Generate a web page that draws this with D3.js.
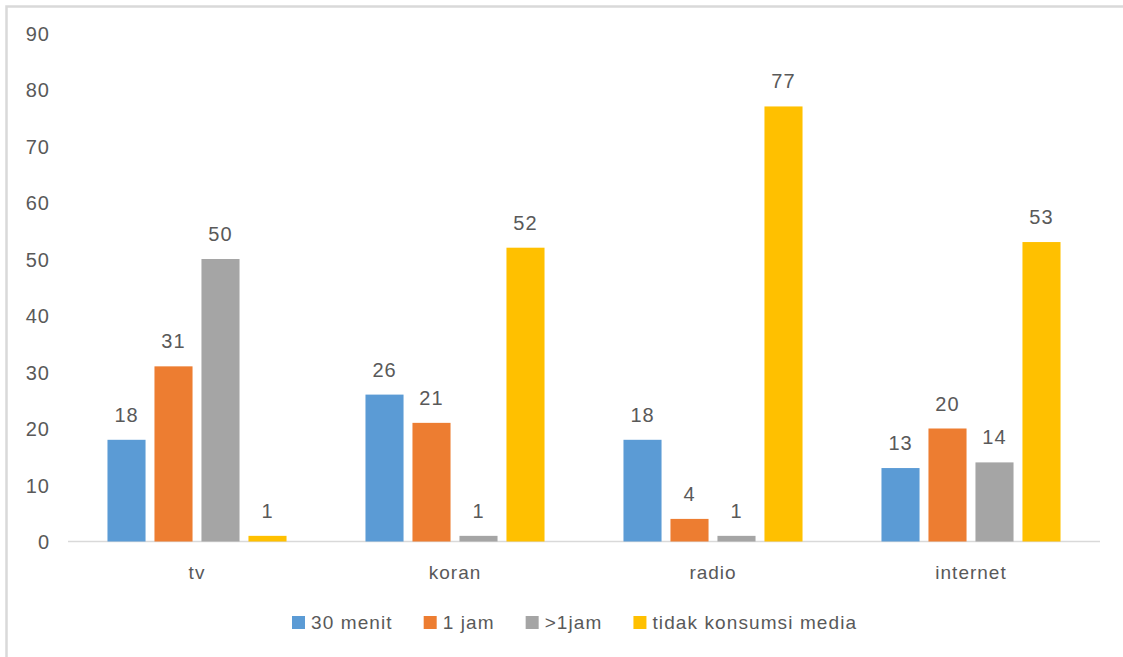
<!DOCTYPE html>
<html>
<head>
<meta charset="utf-8">
<script src="https://cdn.jsdelivr.net/npm/d3@7"></script>
<style>
  html, body { margin: 0; padding: 0; background: #fff; }
  svg text { font-family: "Liberation Sans", Arial, sans-serif; fill: #595959; }
</style>
</head>
<body>
<svg id="chart" width="1123" height="657"></svg>
<script>
const categories = ["tv", "koran", "radio", "internet"];
const seriesNames = ["30 menit", "1 jam", ">1jam", "tidak konsumsi media"];
const seriesColors = ["#5B9BD5", "#ED7D31", "#A5A5A5", "#FFC000"];
const s30menit = [18, 26, 18, 13];
const s1jam = [31, 21, 4, 20];
const sLebih1jam = [50, 1, 1, 14];
const sTidak = [1, 52, 77, 53];
const yTicks = [0, 10, 20, 30, 40, 50, 60, 70, 80, 90];

const seriesValues = [s30menit, s1jam, sLebih1jam, sTidak];

const svg = d3.select("#chart");

// outer frame
svg.append("rect")
  .attr("x", 6.5).attr("y", 6.5)
  .attr("width", 1300).attr("height", 800)
  .attr("fill", "none").attr("stroke", "#D9D9D9").attr("stroke-width", 2.5);

const x0 = d3.scaleBand().domain(categories).range([68, 1100])
  .paddingInner(0.306).paddingOuter(0.153);
const x1 = d3.scaleBand().domain(seriesNames).range([0, x0.bandwidth()])
  .paddingInner(0.19).paddingOuter(0);
const y = d3.scaleLinear().domain([0, 90]).range([541.5, 33]);

// y axis labels
const yAxis = d3.axisLeft(y).tickValues(yTicks).tickSize(0).tickPadding(0);
const gy = svg.append("g").attr("transform", "translate(50,0)").call(yAxis);
gy.select(".domain").remove();
gy.selectAll("text")
  .style("font-size", "20px").style("letter-spacing", "1px")
  .attr("fill", "#595959").attr("dy", "0.36em");

// baseline
svg.append("line")
  .attr("x1", 68).attr("x2", 1100)
  .attr("y1", y(0)).attr("y2", y(0))
  .attr("stroke", "#D9D9D9").attr("stroke-width", 1.5);

// bars
const groups = svg.selectAll("g.cat").data(categories).enter().append("g")
  .attr("class", "cat")
  .attr("transform", d => `translate(${x0(d)},0)`);

groups.each(function(cat, ci) {
  const g = d3.select(this);
  seriesNames.forEach((s, si) => {
    const v = seriesValues[si][ci];
    g.append("rect")
      .attr("x", x1(s))
      .attr("y", y(v))
      .attr("width", x1.bandwidth())
      .attr("height", y(0) - y(v))
      .attr("fill", seriesColors[si]);
    g.append("text")
      .attr("x", x1(s) + x1.bandwidth() / 2)
      .attr("y", y(v) - 18)
      .attr("text-anchor", "middle")
      .style("font-size", "20px").style("letter-spacing", "1px")
      .text(v);
  });
});

// category axis labels
const xAxis = d3.axisBottom(x0).tickSize(0).tickPadding(0);
const gx = svg.append("g").attr("transform", `translate(0,${y(0)})`).call(xAxis);
gx.select(".domain").remove();
gx.selectAll("text")
  .style("font-size", "19px").style("letter-spacing", "1px")
  .attr("fill", "#595959").attr("dy", null).attr("y", 37);

// legend
const legend = svg.append("g");
let lx = 292;
seriesNames.forEach((s, i) => {
  const item = legend.append("g").attr("transform", `translate(${lx},0)`);
  item.append("rect").attr("x", 0).attr("y", 616).attr("width", 13).attr("height", 13)
    .attr("fill", seriesColors[i]);
  const t = item.append("text").attr("x", 19).attr("y", 629)
    .style("font-size", "19px").style("letter-spacing", "1.1px")
    .text(s);
  const w = t.node().getComputedTextLength();
  lx += 19 + w + 31;
});
</script>
</body>
</html>
